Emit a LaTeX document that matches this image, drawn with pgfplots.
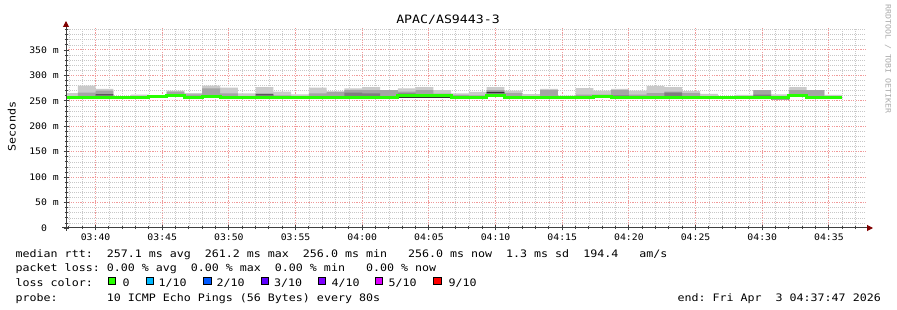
\documentclass[border=0pt]{standalone}
\usepackage{fontspec}
\setmonofont{DejaVu Sans Mono}
\usepackage{graphicx}
\usepackage{pgfplots}
\usepackage{pgfplotstable}
\pgfplotsset{compat=1.18}
\usepgfplotslibrary{fillbetween}
\usetikzlibrary{arrows.meta}
\definecolor{lossgreen}{HTML}{26FF00}
\definecolor{lossa}{HTML}{00B8FF}
\definecolor{lossb}{HTML}{0059FF}
\definecolor{lossc}{HTML}{5E00FF}
\definecolor{lossd}{HTML}{7E00FF}
\definecolor{losse}{HTML}{DD00FF}
\definecolor{lossf}{HTML}{FF0000}
\definecolor{smokeA}{HTML}{CACACA}
\definecolor{smokeB}{HTML}{A4A4A4}
\definecolor{smokeC}{HTML}{7E7E7E}
\definecolor{smokeE}{HTML}{323232}
\definecolor{mgrid}{HTML}{F09A9A}
\definecolor{mingrid}{HTML}{C8C8C8}
\definecolor{arrowred}{HTML}{800000}
\definecolor{axisc}{HTML}{404040}
\definecolor{wm}{HTML}{AAAAAA}
\newcommand\lgf[1]{\scalebox{1.13}[1]{\fontsize{10.3}{12}\selectfont\ttfamily #1}}
\newcommand\tl[1]{\scalebox{1.09}[1]{#1}}
\pgfplotstableread{
x lo mhi hi clo chi dlo dhi med
37.3333 255.2 258.2 265.4 255.2 255.2 255.2 255.2 256.2
38.6667 255.8 266.0 279.8 255.8 255.8 255.8 255.8 256.8
40.0000 256.0 270.0 273.3 256.0 256.0 260.5 262.5 257.0
41.3333 255.0 257.5 258.9 255.0 255.0 255.0 255.0 256.0
42.6667 255.2 258.2 262.1 255.2 255.2 255.2 255.2 256.2
44.0000 256.8 259.5 260.1 256.8 256.8 256.8 256.8 257.8
45.3333 258.8 268.0 269.9 258.8 258.8 258.8 258.8 259.8
46.6667 255.2 262.9 265.4 255.2 255.2 255.2 255.2 256.2
48.0000 258.5 274.7 279.8 258.5 258.5 258.5 258.5 259.5
49.3333 256.5 264.8 275.8 256.5 256.5 256.5 256.5 257.5
50.6667 255.2 258.2 264.8 255.2 255.2 255.2 255.2 256.2
52.0000 256.5 264.8 277.2 256.5 256.5 260.5 262.5 257.5
53.3333 256.5 260.5 268.0 256.5 256.5 256.5 256.5 257.5
54.6667 255.0 258.0 262.9 255.0 255.0 255.0 255.0 256.0
56.0000 256.0 264.8 275.8 256.0 256.0 256.0 256.0 257.0
57.3333 255.2 268.0 268.0 255.2 255.2 255.2 255.2 256.2
58.6667 256.5 271.3 274.7 259.5 266.0 256.5 256.5 257.5
60.0000 255.8 271.0 277.2 259.5 264.8 255.8 255.8 256.8
61.3333 255.5 271.3 271.3 255.5 255.5 255.5 255.5 256.5
62.6667 256.0 268.0 274.7 256.0 264.5 256.0 258.3 260.5
64.0000 256.0 271.3 277.2 256.0 256.0 256.0 258.3 260.5
65.3333 256.0 264.0 271.3 256.0 256.0 256.0 258.3 260.5
66.6667 255.2 261.5 264.8 255.2 255.2 255.2 255.2 256.2
68.0000 256.5 260.5 267.4 256.5 256.5 256.5 256.5 257.5
69.3333 258.0 271.3 277.2 258.0 268.0 265.5 267.0 261.0
70.6667 255.2 265.4 269.9 255.2 255.2 255.2 255.2 256.2
72.0000 255.2 258.2 263.4 255.2 255.2 255.2 255.2 256.2
73.3333 255.2 271.3 273.3 255.2 255.2 255.2 255.2 256.2
74.6667 255.2 258.2 260.1 255.2 255.2 255.2 255.2 256.2
76.0000 256.5 262.0 275.2 256.5 256.5 256.5 256.5 257.5
77.3333 257.9 262.0 270.3 257.9 257.9 257.9 257.9 258.9
78.6667 255.2 271.3 273.3 255.2 260.5 255.2 255.2 256.2
80.0000 255.2 262.0 270.3 255.2 255.2 255.2 255.2 256.2
81.3333 255.2 265.4 279.6 255.2 255.2 255.2 255.2 256.2
82.6667 255.2 268.0 277.2 255.2 266.0 255.2 255.2 256.2
84.0000 255.2 265.4 269.3 255.2 255.2 255.2 255.2 256.2
85.3333 255.2 258.2 263.8 255.2 255.2 255.2 255.2 256.2
86.6667 255.2 257.8 258.5 255.2 255.2 255.2 255.2 256.2
88.0000 256.5 259.5 261.5 256.5 256.5 256.5 256.5 257.5
89.3333 256.5 271.3 271.3 256.5 262.0 256.5 256.5 257.5
90.6667 252.5 258.2 262.5 252.5 252.5 252.5 252.5 256.2
92.0000 258.0 271.0 277.2 258.0 258.0 258.0 258.0 261.2
93.3333 256.5 271.0 271.3 256.5 256.5 256.5 256.5 257.5
94.6667 255.0 258.0 261.5 255.0 255.0 255.0 255.0 256.0
96.0000 255.0 258.0 261.5 255.0 255.0 255.0 255.0 256.0
}\smoke
\begin{document}
\begin{tikzpicture}
\begin{axis}[
  at={(66pt,82pt)}, anchor=south west,
  scale only axis, width=800pt, height=200pt,
  xmin=37.7833, xmax=97.7833, ymin=0, ymax=393.2,
  axis line style={draw=none},
  tick pos=left,
  tick align=center,
  major tick length=5pt, minor tick length=3pt,
  every tick/.style={axisc, line width=0.8pt},
  xtick={40,45,...,95},
  xticklabels={\tl{03:40},\tl{03:45},\tl{03:50},\tl{03:55},\tl{04:00},\tl{04:05},\tl{04:10},\tl{04:15},\tl{04:20},\tl{04:25},\tl{04:30},\tl{04:35}},
  minor xtick={38,39,41,42,43,44,46,47,48,49,51,52,53,54,56,57,58,59,61,62,63,64,66,67,68,69,71,72,73,74,76,77,78,79,81,82,83,84,86,87,88,89,91,92,93,94,96,97},
  ytick={0,50,...,350},
  yticklabels={\tl{0~~},\tl{50~m},\tl{100~m},\tl{150~m},\tl{200~m},\tl{250~m},\tl{300~m},\tl{350~m}},
  minor ytick={10,20,30,40,60,70,80,90,110,120,130,140,160,170,180,190,210,220,230,240,260,270,280,290,310,320,330,340,360,370,380,390},
  grid=both,
  major grid style={mgrid, line width=1pt, dash pattern=on 1.2pt off 1.2pt},
  minor grid style={mingrid, line width=0.6pt, dash pattern=on 1pt off 1pt},
  tick label style={font=\fontsize{9}{10}\selectfont\ttfamily},
  xticklabel style={inner sep=0pt, anchor=north, yshift=-3pt},
  yticklabel style={inner sep=0pt, anchor=east, xshift=-4.5pt},
]
\addplot[const plot, draw=none, name path=lo] table[x=x,y=lo]{\smoke};
\addplot[const plot, draw=none, name path=hi] table[x=x,y=hi]{\smoke};
\addplot[const plot, draw=none, name path=mhi] table[x=x,y=mhi]{\smoke};
\addplot[const plot, draw=none, name path=clo] table[x=x,y=clo]{\smoke};
\addplot[const plot, draw=none, name path=chi] table[x=x,y=chi]{\smoke};
\addplot[const plot, draw=none, name path=dlo] table[x=x,y=dlo]{\smoke};
\addplot[const plot, draw=none, name path=dhi] table[x=x,y=dhi]{\smoke};
\addplot[fill=smokeA, draw=none] fill between[of=hi and lo];
\addplot[fill=smokeB, draw=none] fill between[of=mhi and lo];
\addplot[fill=smokeC, draw=none] fill between[of=chi and clo];
\addplot[fill=smokeE, draw=none] fill between[of=dhi and dlo];
\addplot[const plot, line width=3pt, color=lossgreen] table[x=x,y=med]{\smoke};
\end{axis}
% axes with arrows
\draw[axisc, line width=1pt, -{Triangle[length=6pt,width=6pt,color=arrowred]}] (62pt,82pt) -- (873pt,82pt);
\draw[axisc, line width=1pt, -{Triangle[length=6pt,width=6pt,color=arrowred]}] (66pt,79pt) -- (66pt,289pt);
% title and labels
\node[anchor=base, inner sep=0pt] at (448pt,286pt) {\scalebox{1.15}[1]{\fontsize{11.5}{13}\selectfont\ttfamily APAC/AS9443-3}};
\node[anchor=base, inner sep=0pt, rotate=90] at (15.6pt,183.5pt) {\lgf{Seconds}};
\node[anchor=base, inner sep=0pt, rotate=-90, text=wm] at (885.5pt,251pt) {\scalebox{1.1}[1]{\fontsize{7.5}{9}\selectfont\ttfamily RRDTOOL~/~TOBI~OETIKER}};
% legend
\node[anchor=base west, inner sep=0pt] at (15.5pt,52.7pt) {\lgf{median~rtt:~~257.1~ms~avg~~261.2~ms~max~~256.0~ms~min~~~256.0~ms~now~~1.3~ms~sd~~194.4~~~am/s}};
\node[anchor=base west, inner sep=0pt] at (15.5pt,38pt) {\lgf{packet~loss:~0.00~\%~avg~~0.00~\%~max~~0.00~\%~min~~~0.00~\%~now}};
\node[anchor=base west, inner sep=0pt] at (15.5pt,23.3pt) {\lgf{loss~color:}};
\filldraw[fill=lossgreen, draw=black, line width=0.8pt] (108pt,25.7pt) rectangle (115.5pt,32.7pt);
\filldraw[fill=lossa, draw=black, line width=0.8pt] (146pt,25.7pt) rectangle (153.5pt,32.7pt);
\filldraw[fill=lossb, draw=black, line width=0.8pt] (203.5pt,25.7pt) rectangle (211pt,32.7pt);
\filldraw[fill=lossc, draw=black, line width=0.8pt] (261pt,25.7pt) rectangle (268.5pt,32.7pt);
\filldraw[fill=lossd, draw=black, line width=0.8pt] (318pt,25.7pt) rectangle (325.5pt,32.7pt);
\filldraw[fill=losse, draw=black, line width=0.8pt] (375.3pt,25.7pt) rectangle (382.8pt,32.7pt);
\filldraw[fill=lossf, draw=black, line width=0.8pt] (433.5pt,25.7pt) rectangle (441pt,32.7pt);
\node[anchor=base west, inner sep=0pt] at (122.5pt,23.3pt) {\lgf{0}};
\node[anchor=base west, inner sep=0pt] at (158.5pt,23.3pt) {\lgf{1/10}};
\node[anchor=base west, inner sep=0pt] at (216.5pt,23.3pt) {\lgf{2/10}};
\node[anchor=base west, inner sep=0pt] at (274pt,23.3pt) {\lgf{3/10}};
\node[anchor=base west, inner sep=0pt] at (331.5pt,23.3pt) {\lgf{4/10}};
\node[anchor=base west, inner sep=0pt] at (388.5pt,23.3pt) {\lgf{5/10}};
\node[anchor=base west, inner sep=0pt] at (448.5pt,23.3pt) {\lgf{9/10}};
\node[anchor=base west, inner sep=0pt] at (15.5pt,8.7pt) {\lgf{probe:~~~~~~~10~ICMP~Echo~Pings~(56~Bytes)~every~80s}};
\node[anchor=base east, inner sep=0pt] at (881pt,8.7pt) {\lgf{end:~Fri~Apr~~3~04:37:47~2026}};
\pgfresetboundingbox
\useasboundingbox (0pt,0pt) rectangle (897pt,310pt);
\end{tikzpicture}
\end{document}
